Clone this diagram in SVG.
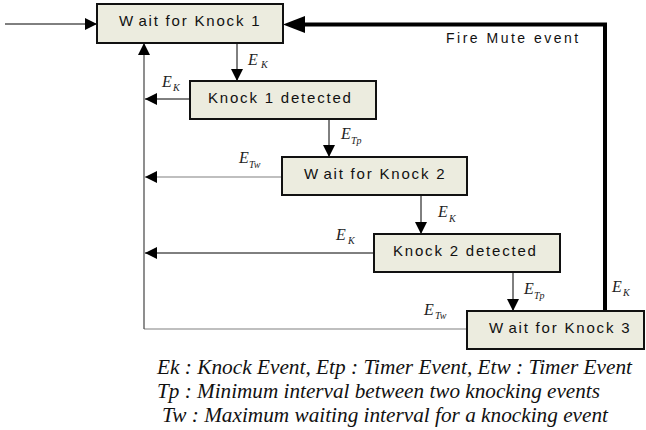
<svg xmlns="http://www.w3.org/2000/svg" width="646" height="430" viewBox="0 0 646 430">
  <style>
    .box { fill: #ececdf; stroke: #111; stroke-width: 2; }
    .lbl { font-family: "Liberation Sans", Arial, sans-serif; font-size: 15px; letter-spacing: 1.8px; fill: #111; }
    .wire { fill: none; stroke: #000; stroke-width: 1; }
    .grey { fill: none; stroke: #808080; stroke-width: 1.2; }
    .trunk { fill: none; stroke: #444; stroke-width: 1.2; }
    .thick { fill: none; stroke: #000; stroke-width: 4; stroke-linejoin: miter; }
    .ev { font-family: "Liberation Serif", "Times New Roman", serif; font-style: italic; fill: #222; }
    .ev .e { font-size: 16px; }
    .ev .s { font-size: 10px; }
    .legend { font-family: "Liberation Serif", "Times New Roman", serif; font-style: italic; font-size: 21px; fill: #111; }
    .note { font-family: "Liberation Sans", Arial, sans-serif; font-size: 14px; letter-spacing: 2.5px; fill: #111; }
  </style>
  <defs>
    <marker id="ah" markerWidth="12" markerHeight="12" refX="12" refY="6" orient="auto" markerUnits="userSpaceOnUse">
      <path d="M0,0 L12,6 L0,12 z" fill="#000"/>
    </marker>
  </defs>

  <!-- connectors -->
  <g id="connectors">
    <!-- entry -->
    <path class="wire" d="M5,24 H97" marker-end="url(#ah)"/>
    <!-- forward transitions -->
    <path class="wire" d="M237,43 V81" marker-end="url(#ah)"/>
    <path class="wire" d="M329,119 V157" marker-end="url(#ah)"/>
    <path class="wire" d="M421,195 V234" marker-end="url(#ah)"/>
    <path class="wire" d="M513,272 V311" marker-end="url(#ah)"/>
    <!-- returns to the left trunk -->
    <path class="wire" d="M190,99 H145" marker-end="url(#ah)"/>
    <path class="grey" d="M282,177 H145" marker-end="url(#ah)"/>
    <path class="wire" d="M374,253 H145" marker-end="url(#ah)"/>
    <path class="grey" d="M467,329 H144"/>
    <path class="trunk" d="M144,329 V43" marker-end="url(#ah)"/>
    <!-- mute feedback -->
    <path class="thick" d="M605,311 V24.5 H300"/>
    <path d="M283,24.5 L305,16 L305,33 z" fill="#000"/>
  </g>

  <!-- event labels -->
  <g id="event-labels" class="ev">
    <text x="248" y="65"><tspan class="e">E</tspan><tspan class="s" x="261" y="68">K</tspan></text>
    <text x="162" y="87"><tspan class="e">E</tspan><tspan class="s" x="173" y="91">K</tspan></text>
    <text x="341" y="139"><tspan class="e">E</tspan><tspan class="s" x="351" y="144">Tp</tspan></text>
    <text x="239" y="163"><tspan class="e">E</tspan><tspan class="s" x="249" y="168">Tw</tspan></text>
    <text x="438" y="217"><tspan class="e">E</tspan><tspan class="s" x="449" y="222">K</tspan></text>
    <text x="336" y="240"><tspan class="e">E</tspan><tspan class="s" x="348" y="244">K</tspan></text>
    <text x="524" y="294"><tspan class="e">E</tspan><tspan class="s" x="534" y="299">Tp</tspan></text>
    <text x="612" y="292"><tspan class="e">E</tspan><tspan class="s" x="623" y="296">K</tspan></text>
    <text x="424" y="315"><tspan class="e">E</tspan><tspan class="s" x="435" y="319">Tw</tspan></text>
  </g>

  <text class="note" x="446" y="43">Fire Mute event</text>

  <!-- states -->
  <g id="wait-knock-1">
    <rect class="box" x="97" y="4" width="186" height="39"/>
    <text class="lbl" x="119" y="26"><tspan>W</tspan><tspan dx="4">ait for Knock 1</tspan></text>
  </g>
  <g id="knock-1-detected">
    <rect class="box" x="190" y="81" width="186" height="38"/>
    <text class="lbl" x="208" y="103">Knock 1 detected</text>
  </g>
  <g id="wait-knock-2">
    <rect class="box" x="282" y="157" width="185" height="38"/>
    <text class="lbl" x="304" y="179"><tspan>W</tspan><tspan dx="4">ait for Knock 2</tspan></text>
  </g>
  <g id="knock-2-detected">
    <rect class="box" x="374" y="234" width="186" height="38"/>
    <text class="lbl" x="393" y="256">Knock 2 detected</text>
  </g>
  <g id="wait-knock-3">
    <rect class="box" x="467" y="311" width="177" height="38"/>
    <text class="lbl" x="489" y="333"><tspan>W</tspan><tspan dx="4">ait for Knock 3</tspan></text>
  </g>

  <!-- legend -->
  <g id="legend" class="legend">
    <text x="157" y="374" textLength="475" lengthAdjust="spacingAndGlyphs">Ek : Knock Event, Etp : Timer Event, Etw : Timer Event</text>
    <text x="157" y="398" textLength="443" lengthAdjust="spacingAndGlyphs">Tp : Minimum interval between two knocking events</text>
    <text x="162" y="422" textLength="446" lengthAdjust="spacingAndGlyphs">Tw : Maximum waiting interval for a knocking event</text>
  </g>
</svg>
